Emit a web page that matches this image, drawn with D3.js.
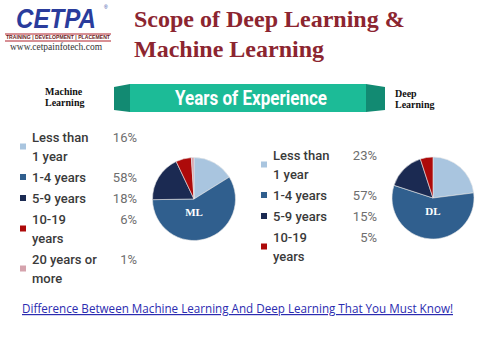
<!DOCTYPE html>
<html lang="en">
<head>
    <meta charset="UTF-8">
    <title>Scope of Deep Learning & Machine Learning</title>
    <script src="https://d3js.org/d3.v7.min.js"></script>
    <style>
        body { margin: 0; background: #fff; }
        svg { display: block; }
    </style>
</head>
<body>
    <svg id="chart" width="480" height="360"></svg>

    <script>
        // data
        const categories = ["Less than 1 year", "1-4 years", "5-9 years", "10-19 years", "20 years or more"];
        const labelLines = [["Less than", "1 year"], ["1-4 years"], ["5-9 years"], ["10-19", "years"], ["20 years or", "more"]];
        const mlValues = [16, 58, 18, 6, 1];
        const dlValues = [23, 57, 15, 5];
        const colors = ["#a9c5df", "#305f8e", "#1b2a52", "#ad0a0a", "#d5a3ad"];

        const svg = d3.select("#chart");
        const color = d3.scaleOrdinal().domain(categories).range(colors);

        // logo
        svg.append("text").attr("transform", "translate(16,28) scale(1,1.15)")
            .attr("font-family", "Liberation Sans").attr("font-weight", "bold").attr("font-style", "italic")
            .attr("font-size", 24).attr("fill", "#2a3c9c")
            .attr("textLength", 80).attr("lengthAdjust", "spacingAndGlyphs").text("CETPA");
        svg.append("text").attr("x", 104).attr("y", 9).attr("font-family", "Liberation Sans")
            .attr("font-size", 5).attr("fill", "#2a3c9c").text("®");
        svg.append("line").attr("x1", 5).attr("x2", 111).attr("y1", 34).attr("y2", 34).attr("stroke", "#b0202a").attr("stroke-width", 1);
        svg.append("line").attr("x1", 5).attr("x2", 111).attr("y1", 41).attr("y2", 41).attr("stroke", "#b0202a").attr("stroke-width", 1);
        svg.append("text").attr("x", 6).attr("y", 39.3).attr("font-family", "Liberation Sans").attr("font-weight", "bold")
            .attr("font-size", 5).attr("fill", "#6a1a20")
            .attr("textLength", 104).attr("lengthAdjust", "spacingAndGlyphs")
            .text("TRAINING | DEVELOPMENT | PLACEMENT");
        svg.append("text").attr("x", 10).attr("y", 50).attr("font-family", "Liberation Serif")
            .attr("font-size", 10).attr("fill", "#333")
            .attr("textLength", 92).attr("lengthAdjust", "spacingAndGlyphs").text("www.cetpainfotech.com");

        // title
        const title = svg.append("text").attr("font-family", "Liberation Serif").attr("font-weight", "bold")
            .attr("font-size", 24).attr("fill", "#8c2530");
        title.append("tspan").attr("x", 134).attr("y", 27).text("Scope of Deep Learning &");
        title.append("tspan").attr("x", 134).attr("y", 57).text("Machine Learning");

        // banner
        const banner = svg.append("g");
        banner.append("path").attr("d", "M114,87 L130,84 L130,112 L114,110 Z").attr("fill", "#128a72");
        banner.append("path").attr("d", "M366,84 L385,87 L385,110 L366,112 Z").attr("fill", "#128a72");
        banner.append("rect").attr("x", 130).attr("y", 84).attr("width", 236).attr("height", 28).attr("fill", "#1cbb97");
        banner.append("text").attr("x", 251).attr("y", 105).attr("text-anchor", "middle")
            .attr("font-family", "Roboto").attr("font-weight", "bold").attr("font-size", 20).attr("fill", "#fff")
            .attr("textLength", 152).attr("lengthAdjust", "spacingAndGlyphs").text("Years of Experience");

        // side labels
        function sideLabel(x, y, lines) {
            const t = svg.append("text").attr("font-family", "Liberation Serif").attr("font-weight", "bold")
                .attr("font-size", 10).attr("fill", "#111");
            lines.forEach((l, i) => t.append("tspan").attr("x", x).attr("y", y + i * 11).text(l));
        }
        sideLabel(45, 95, ["Machine", "Learning"]);
        sideLabel(395, 97, ["Deep", "Learning"]);

        // legend
        function legend(x, pctX, y0, values) {
            let y = y0;
            values.forEach((v, i) => {
                const lines = labelLines[i];
                const last = y + (lines.length - 1) * 19;
                svg.append("rect").attr("x", x - 12).attr("y", (y + last) / 2 - 8).attr("width", 6).attr("height", 6)
                    .attr("fill", color(categories[i]));
                const t = svg.append("text").attr("font-family", "Roboto").attr("font-weight", 500)
                    .attr("font-size", 13).attr("fill", "#3a3a3a");
                lines.forEach((l, j) => t.append("tspan").attr("x", x).attr("y", y + j * 19).text(l));
                svg.append("text").attr("x", pctX).attr("y", y).attr("text-anchor", "end")
                    .attr("font-family", "Roboto").attr("font-size", 13).attr("fill", "#6e6e6e").text(v + "%");
                y = last + 21;
            });
        }
        legend(32, 137, 142, mlValues);
        legend(273, 377, 160, dlValues);

        // pies
        const pie = d3.pie().sort(null);
        function drawPie(cx, cy, r, values, label) {
            const arc = d3.arc().innerRadius(0).outerRadius(r);
            const g = svg.append("g").attr("transform", `translate(${cx},${cy})`);
            g.selectAll("path").data(pie(values)).enter().append("path")
                .attr("d", arc).attr("fill", (d, i) => color(categories[i]))
                .attr("stroke", "#e8e8e8").attr("stroke-width", 0.6);
            g.append("text").attr("y", 17).attr("text-anchor", "middle")
                .attr("font-family", "Liberation Serif").attr("font-weight", "bold").attr("font-size", 11)
                .attr("fill", "#fff").text(label);
        }
        drawPie(194, 199, 41.5, mlValues, "ML");
        drawPie(433, 198, 41, dlValues, "DL");

        // link
        svg.append("text").attr("x", 22).attr("y", 313).attr("font-family", "Open Sans")
            .attr("font-size", 12).attr("fill", "#2b2bb0").attr("text-decoration", "underline")
            .attr("textLength", 431).attr("lengthAdjust", "spacingAndGlyphs")
            .text("Difference Between Machine Learning And Deep Learning That You Must Know!");
    </script>
</body>
</html>
